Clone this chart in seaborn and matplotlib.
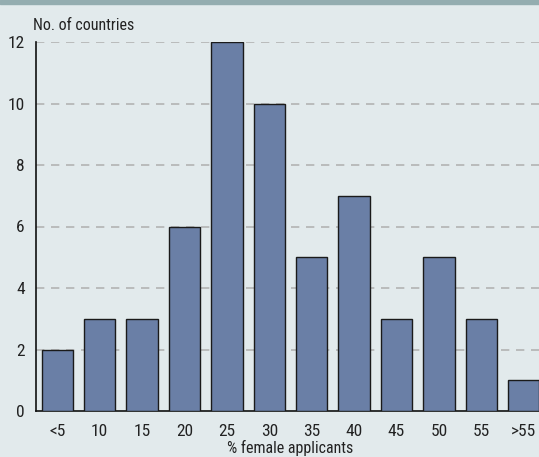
import matplotlib
matplotlib.use("Agg")
import matplotlib.pyplot as plt
import seaborn as sns
import pandas as pd
from matplotlib import font_manager

categories = ["<5", "10", "15", "20", "25", "30", "35", "40", "45", "50", "55", ">55"]
counts = [2, 3, 3, 6, 12, 10, 5, 7, 3, 5, 3, 1]
yticks = [0, 2, 4, 6, 8, 10, 12]

sns.set_style("white")
names = {f.name for f in font_manager.fontManager.ttflist}
fam = [f for f in ["Liberation Sans Narrow", "Roboto Condensed", "DejaVu Sans Condensed", "DejaVu Sans"] if f in names]
plt.rcParams["font.family"] = fam

bg = "#e2eaec"
fig = plt.figure(figsize=(5.39, 4.57), dpi=100, facecolor=bg)
ax = fig.add_axes([36/539, 1 - 411/457, (545-36)/539, (411-42)/457])
ax.set_facecolor(bg)

df = pd.DataFrame({"cat": categories, "n": counts})
sns.barplot(data=df, x="cat", y="n", ax=ax, color="#6a7fa6", saturation=1,
            width=0.74, edgecolor="#1a1a1a", linewidth=1.0, zorder=3)

ax.set_ylim(0, 12)
ax.set_xlim(-0.5, 11.5)
ax.set_yticks(yticks)
for y in yticks[1:]:
    ax.axhline(y, color="#b3b3b3", lw=1.2, ls=(0, (5, 4)), zorder=1)

for s in ["top", "right"]:
    ax.spines[s].set_visible(False)
for s in ["left", "bottom"]:
    ax.spines[s].set_color("#111111")
    ax.spines[s].set_linewidth(1.2)

ax.tick_params(axis="y", length=0, pad=8, labelsize=12.5, colors="#222222")
ax.tick_params(axis="x", length=0, pad=9, labelsize=12.5, colors="#222222")
ax.set_xlabel("% female applicants", fontsize=11.5, color="#222222", labelpad=1)
ax.set_ylabel("")
fig.text(33/539, 1 - 25/457, "No. of countries", fontsize=11.5, color="#222222",
         ha="left", va="center")

fig.add_artist(plt.Rectangle((0, 1 - 4/457), 1, 4/457, transform=fig.transFigure,
                             color="#94adb0", zorder=10))

fig.savefig("out.png", dpi=100, facecolor=bg)
